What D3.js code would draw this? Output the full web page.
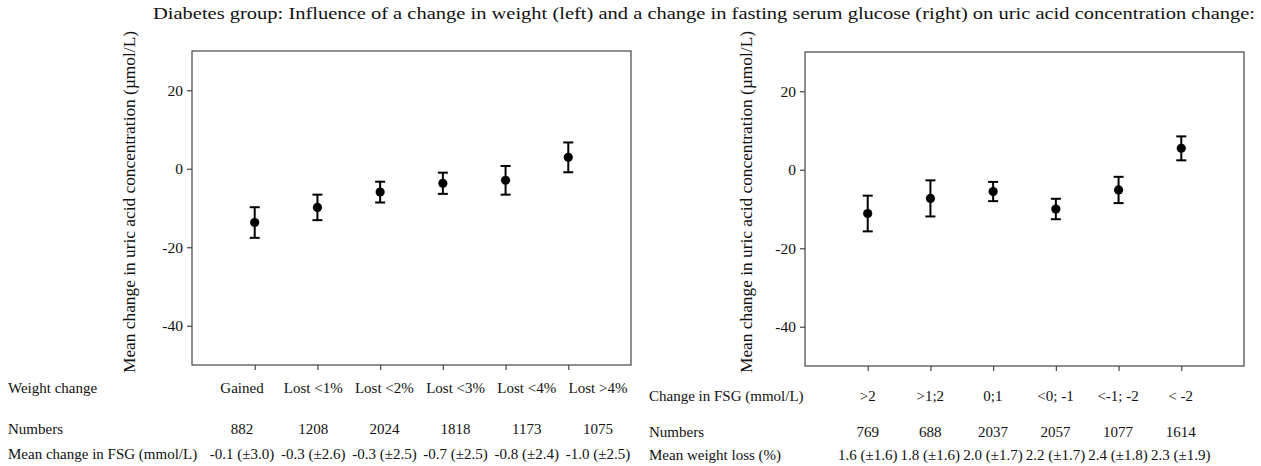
<!DOCTYPE html>
<html>
<head>
<meta charset="utf-8">
<script src="https://cdn.jsdelivr.net/npm/d3@7/dist/d3.min.js"></script>
<style>
  html, body { margin: 0; padding: 0; background: #fff; }
  svg text { font-family: "Liberation Serif", "Times New Roman", Times, serif !important; }
</style>
</head>
<body>
<svg id="chart" width="1261" height="466"></svg>
<script>
// ---- data ----
const titleText = "Diabetes group: Influence of a change in weight (left) and a change in fasting serum glucose (right) on uric acid concentration change:";
const yLabel = "Mean change in uric acid concentration (µmol/L)";
const yTicks = [20, 0, -20, -40];
const yDomain = [-50, 30];

const leftCategories = ["Gained", "Lost <1%", "Lost <2%", "Lost <3%", "Lost <4%", "Lost >4%"];
const leftNumbers = [882, 1208, 2024, 1818, 1173, 1075];
const leftFSG = ["-0.1 (±3.0)", "-0.3 (±2.6)", "-0.3 (±2.5)", "-0.7 (±2.5)", "-0.8 (±2.4)", "-1.0 (±2.5)"];
const leftMean = [-13.7, -9.85, -5.95, -3.7, -2.95, 2.9];
const leftErr = [3.9, 3.25, 2.65, 2.7, 3.65, 3.8];
const leftRowLabels = ["Weight change", "Numbers", "Mean change in FSG (mmol/L)"];

const rightCategories = [">2", ">1;2", "0;1", "<0; -1", "<-1; -2", "< -2"];
const rightNumbers = [769, 688, 2037, 2057, 1077, 1614];
const rightWeightLoss = ["1.6 (±1.6)", "1.8 (±1.6)", "2.0 (±1.7)", "2.2 (±1.7)", "2.4 (±1.8)", "2.3 (±1.9)"];
const rightMean = [-11.15, -7.3, -5.55, -10.0, -5.15, 5.45];
const rightErr = [4.55, 4.6, 2.45, 2.6, 3.35, 3.05];
const rightRowLabels = ["Change in FSG (mmol/L)", "Numbers", "Mean weight loss (%)"];

// ---- drawing ----
const svg = d3.select("#chart");
const frameColor = "#444";

svg.append("text")
  .attr("x", 153).attr("y", 19)
  .attr("font-size", 17.5)
  .attr("textLength", 1102).attr("lengthAdjust", "spacingAndGlyphs")
  .attr("fill", "#111")
  .text(titleText);

function panel(cfg) {
  const x = d3.scaleLinear().domain([0, 7]).range([cfg.left, cfg.right]);
  const y = d3.scaleLinear().domain(yDomain).range([cfg.bottom, cfg.top]);
  const g = svg.append("g");

  g.append("rect")
    .attr("x", cfg.left).attr("y", cfg.top)
    .attr("width", cfg.right - cfg.left).attr("height", cfg.bottom - cfg.top)
    .attr("fill", "none").attr("stroke", frameColor).attr("stroke-width", 1.2);

  const ya = g.append("g").attr("transform", `translate(${cfg.left},0)`)
    .call(d3.axisLeft(y).tickValues(yTicks).tickSize(5).tickPadding(4).tickFormat(d => String(d)));
  ya.select(".domain").remove();
  ya.selectAll("line").attr("stroke", frameColor).attr("stroke-width", 1.2);
  ya.selectAll("text").attr("font-size", 15.5).attr("fill", "#111");

  const xa = g.append("g").attr("transform", `translate(0,${cfg.bottom})`)
    .call(d3.axisBottom(x).tickValues(d3.range(1, 7)).tickSize(5).tickFormat(""));
  xa.select(".domain").remove();
  xa.selectAll("line").attr("stroke", frameColor).attr("stroke-width", 1.2);

  g.append("text")
    .attr("transform", `translate(${cfg.labelX},${cfg.labelY}) rotate(-90)`)
    .attr("text-anchor", "middle")
    .attr("font-size", 16)
    .attr("textLength", 342).attr("lengthAdjust", "spacingAndGlyphs")
    .attr("fill", "#111")
    .text(yLabel);

  const pts = cfg.mean.map((m, i) => ({ i: i + 1, m, e: cfg.err[i] }));
  const eb = g.append("g").attr("stroke", "#000").attr("stroke-width", 2).attr("fill", "none");
  eb.selectAll("line.v").data(pts).join("line").attr("class", "v")
    .attr("x1", d => x(d.i)).attr("x2", d => x(d.i))
    .attr("y1", d => y(d.m + d.e)).attr("y2", d => y(d.m - d.e));
  eb.selectAll("line.t").data(pts).join("line").attr("class", "t")
    .attr("x1", d => x(d.i) - 5).attr("x2", d => x(d.i) + 5)
    .attr("y1", d => y(d.m + d.e)).attr("y2", d => y(d.m + d.e));
  eb.selectAll("line.b").data(pts).join("line").attr("class", "b")
    .attr("x1", d => x(d.i) - 5).attr("x2", d => x(d.i) + 5)
    .attr("y1", d => y(d.m - d.e)).attr("y2", d => y(d.m - d.e));
  g.selectAll("circle").data(pts).join("circle")
    .attr("cx", d => x(d.i)).attr("cy", d => y(d.m)).attr("r", 4.6).attr("fill", "#000");

  const tx = d3.scaleLinear().domain([1, 6]).range(cfg.tableRange);
  const rows = [cfg.categories, cfg.numbers, cfg.third];
  const t = g.append("g").attr("font-size", 15).attr("fill", "#111");
  rows.forEach((row, r) => {
    t.append("text").attr("x", cfg.rowLabelX).attr("y", cfg.rowY[r]).text(cfg.rowLabels[r]);
    t.selectAll(null).data(row).join("text")
      .attr("x", (d, i) => tx(i + 1)).attr("y", cfg.rowY[r])
      .attr("text-anchor", "middle")
      .text(d => d);
  });
}

panel({
  left: 192, right: 631, top: 51, bottom: 365,
  labelX: 135, labelY: 202,
  mean: leftMean, err: leftErr,
  categories: leftCategories, numbers: leftNumbers, third: leftFSG,
  rowLabels: leftRowLabels, rowLabelX: 8, rowY: [393, 434, 459],
  tableRange: [242, 598]
});

panel({
  left: 805, right: 1244, top: 52, bottom: 366,
  labelX: 752, labelY: 202,
  mean: rightMean, err: rightErr,
  categories: rightCategories, numbers: rightNumbers, third: rightWeightLoss,
  rowLabels: rightRowLabels, rowLabelX: 649, rowY: [401, 437, 460],
  tableRange: [867.7, 1180.7]
});
</script>
</body>
</html>
